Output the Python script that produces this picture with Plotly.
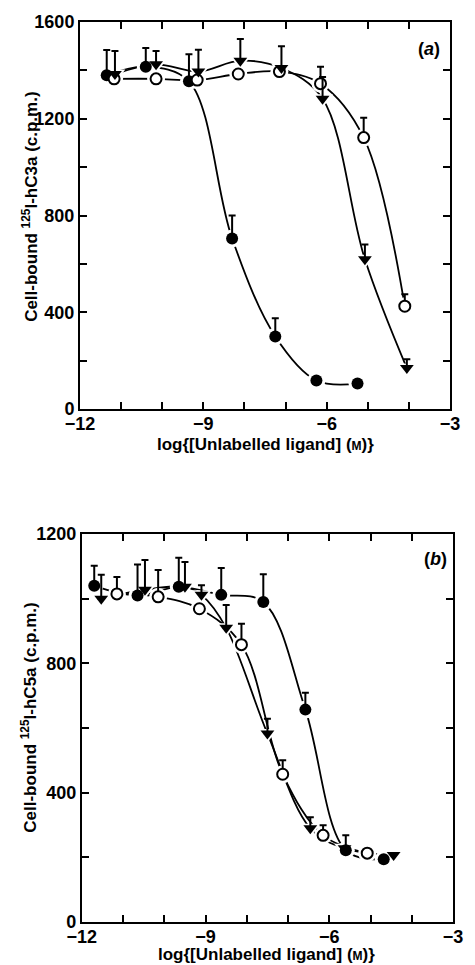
import plotly.graph_objects as go

# ---------------- Panel (a): 125I-hC3a ----------------
a_fill_x = [-11.35, -10.4, -9.35, -8.3, -7.25, -6.25, -5.25]
a_fill_y = [1380, 1415, 1355, 705, 300, 118, 105]
a_fill_err = [104, 78, 112, 95, 75, 0, 0]

a_open_x = [-11.17, -10.15, -9.15, -8.15, -7.15, -6.15, -5.1, -4.1]
a_open_y = [1365, 1365, 1360, 1385, 1395, 1345, 1122, 425]
a_open_err = [0, 0, 0, 0, 0, 70, 82, 49]

a_tri_x = [-11.15, -10.15, -9.12, -8.1, -7.1, -6.1, -5.07, -4.05]
a_tri_y = [1385, 1425, 1395, 1440, 1410, 1283, 619, 169]
a_tri_err = [95, 55, 90, 90, 90, 90, 61, 37]

# ---------------- Panel (b): 125I-hC5a ----------------
b_fill_x = [-11.7, -10.65, -9.65, -8.62, -7.6, -6.58, -5.6, -4.68]
b_fill_y = [1040, 1010, 1037, 1012, 990, 657, 222, 194]
b_fill_err = [62, 96, 90, 83, 86, 52, 46, 0]

b_open_x = [-11.15, -10.15, -9.15, -8.13, -7.13, -6.15, -5.08]
b_open_y = [1015, 1006, 969, 858, 457, 268, 213]
b_open_err = [52, 83, 0, 65, 43, 31, 0]

b_tri_x = [-11.53, -10.47, -9.5, -9.1, -8.5, -7.5, -6.46, -5.63, -4.44]
b_tri_y = [1000, 1028, 1037, 1012, 910, 583, 290, 228, 207]
b_tri_err = [74, 92, 77, 30, 71, 46, 34, 0, 0]

x_ticks = [-12, -9, -6, -3]
a_y_ticks = [0, 400, 800, 1200, 1600]
b_y_ticks = [0, 400, 800, 1200]

FONT = "Liberation Sans, Arial, sans-serif"

fig = go.Figure()

panels = [
    ("x", "y", [(a_fill_x, a_fill_y, a_fill_err, "fill"),
                (a_open_x, a_open_y, a_open_err, "open"),
                (a_tri_x, a_tri_y, a_tri_err, "tri")]),
    ("x2", "y2", [(b_fill_x, b_fill_y, b_fill_err, "fill"),
                  (b_open_x, b_open_y, b_open_err, "open"),
                  (b_tri_x, b_tri_y, b_tri_err, "tri")]),
]

# curves
for xa, ya, series in panels:
    for sx, sy, se, kind in series:
        fig.add_trace(go.Scatter(x=sx, y=sy, xaxis=xa, yaxis=ya, mode="lines",
                                 line=dict(color="black", width=1.8, shape="spline", smoothing=1.0),
                                 hoverinfo="skip", showlegend=False))
# white halos to break lines near markers
for xa, ya, series in panels:
    for sx, sy, se, kind in series:
        fig.add_trace(go.Scatter(x=sx, y=sy, xaxis=xa, yaxis=ya, mode="markers",
                                 marker=dict(color="white", size=18,
                                             symbol="triangle-down" if kind == "tri" else "circle"),
                                 hoverinfo="skip", showlegend=False))
# markers + error bars
for xa, ya, series in panels:
    for sx, sy, se, kind in series:
        if kind == "fill":
            mk = dict(symbol="circle", size=12, color="black", line=dict(width=0))
        elif kind == "open":
            mk = dict(symbol="circle", size=11, color="white", line=dict(color="black", width=2))
        else:
            mk = dict(symbol="triangle-down", size=12, color="black", line=dict(width=0))
        fig.add_trace(go.Scatter(x=sx, y=sy, xaxis=xa, yaxis=ya, mode="markers", marker=mk,
                                 error_y=dict(type="data", symmetric=False, array=se,
                                              arrayminus=[0] * len(se), width=3.5,
                                              thickness=2, color="black"),
                                 showlegend=False))

axis_common = dict(showline=True, linecolor="black", linewidth=2, mirror="allticks",
                   ticks="inside", ticklen=7, tickwidth=2, tickcolor="black",
                   showgrid=False, zeroline=False,
                   tickfont=dict(family=FONT, size=18, color="black", weight="bold"))

fig.update_layout(
    width=475, height=965,
    margin=dict(l=80, r=12, t=20, b=43),
    paper_bgcolor="white", plot_bgcolor="white",
    font=dict(family=FONT, color="black"),
    xaxis=dict(domain=[0, 0.992], range=[-12, -3], tickvals=x_ticks, anchor="y",
               ticklabelstandoff=-3,
               minor=dict(dtick=1, ticks="inside", ticklen=7, tickwidth=2, tickcolor="black"),
               **axis_common),
    yaxis=dict(domain=[0.570, 1.0], range=[0, 1600], tickvals=a_y_ticks, anchor="x",
               minor=dict(dtick=200, ticks="inside", ticklen=7, tickwidth=2, tickcolor="black"),
               **axis_common),
    xaxis2=dict(domain=[0.005, 1.0], range=[-12, -3], tickvals=x_ticks, anchor="y2",
                ticklabelstandoff=-3,
                minor=dict(dtick=1, ticks="inside", ticklen=7, tickwidth=2, tickcolor="black"),
                **axis_common),
    yaxis2=dict(domain=[0.0, 0.431], range=[0, 1200], tickvals=b_y_ticks, anchor="x2",
                minor=dict(dtick=200, ticks="inside", ticklen=7, tickwidth=2, tickcolor="black"),
                **axis_common),
)

tfont = dict(family=FONT, size=17, color="black", weight="bold")
xfont = dict(family=FONT, size=17, color="black", weight="bold")
xtitle = "log{[Unlabelled ligand] (<span style='font-size:12px'>M</span>)}"
fig.add_annotation(text=xtitle, xref="paper", yref="paper", x=0.496, y=(922 - 443) / 902,
                   xanchor="center", yanchor="middle", showarrow=False, font=xfont)
fig.add_annotation(text=xtitle, xref="paper", yref="paper", x=0.5, y=(922 - 955) / 902,
                   xanchor="center", yanchor="middle", showarrow=False, font=xfont)
fig.add_annotation(text="Cell-bound <sup>125</sup>I-hC3a (c.p.m.)", xref="paper", yref="paper",
                   x=-0.136, y=(922 - 205) / 902, xanchor="center", yanchor="middle", textangle=-90,
                   showarrow=False, font=tfont)
fig.add_annotation(text="Cell-bound <sup>125</sup>I-hC5a (c.p.m.)", xref="paper", yref="paper",
                   x=-0.136, y=(922 - 717) / 902, xanchor="center", yanchor="middle", textangle=-90,
                   showarrow=False, font=tfont)
fig.add_annotation(text="(<i>a</i>)", xref="paper", yref="paper",
                   x=(438 - 80) / 383, y=(922 - 47) / 902, xanchor="center", yanchor="middle",
                   showarrow=False, font=dict(family=FONT, size=18, color="black", weight="bold"))
fig.add_annotation(text="(<i>b</i>)", xref="paper", yref="paper",
                   x=(445 - 80) / 383, y=(922 - 558) / 902, xanchor="center", yanchor="middle",
                   showarrow=False, font=dict(family=FONT, size=18, color="black", weight="bold"))

fig.write_html("out.html", config={"displayModeBar": False},
               post_script="document.body.style.margin='0px';")
